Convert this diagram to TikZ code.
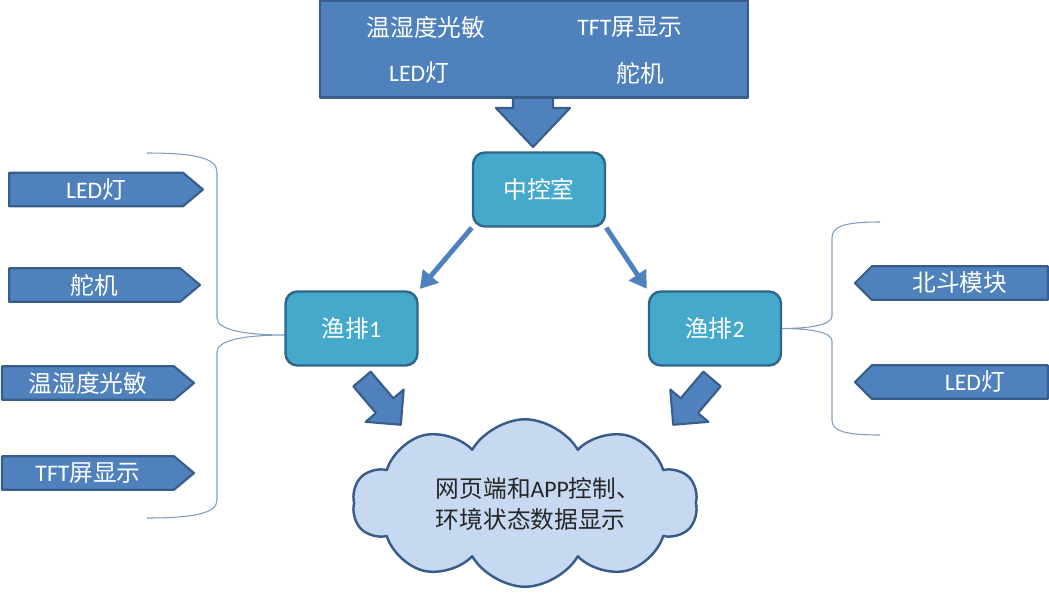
\documentclass[tikz,border=0pt]{standalone}
\usepackage{fontspec}
\setmainfont{Carlito}
\newfontfamily\cjk{Noto Sans CJK SC}
\usetikzlibrary{shapes.symbols,arrows.meta}
\definecolor{boxblue}{HTML}{4F81BD}
\definecolor{boxedge}{HTML}{385D8A}
\definecolor{aqua}{HTML}{45A9CB}
\definecolor{aquaedge}{HTML}{2F6689}
\definecolor{cloudfill}{HTML}{C6D9F1}
\definecolor{bracec}{HTML}{7E9CC0}
\tikzset{
  blkbox/.style={fill=boxblue,draw=boxedge,line width=1.2pt,text=white},
  tag/.style={blkbox,shape=signal,minimum height=0.67cm,inner sep=0pt},
  station/.style={fill=aqua,draw=aquaedge,line width=1.4pt,rounded corners=0.24cm,text=white,minimum width=2.64cm,minimum height=1.48cm},
  conn/.style={draw=boxblue,line width=2.8pt,shorten >=1pt,-{Triangle[length=0.34cm,width=0.4cm]}},
  brace/.style={draw=bracec,line width=0.6pt},
  pics/blk/.style n args={4}{code={\draw[blkbox] (0,-#2)--(#1-#4,-#2)--(#1-#4,-#3)--(#1,0)--(#1-#4,#3)--(#1-#4,#2)--(0,#2)--cycle;}}
}
\begin{document}
\begin{tikzpicture}[x=0.02cm,y=-0.02cm,font=\fontsize{13.5}{17.5}\selectfont,line join=round]
\useasboundingbox (0,0) rectangle (1049,593);
\pic[rotate=-90] at (533,80) {blk={67}{20}{37}{39}};
\node[blkbox,minimum width=8.56cm,minimum height=1.94cm] (top) at (534,49) {};
\node[text=white] (t1) at (426,27) {\cjk 温湿度光敏};
\node[text=white] (t2) at (630,27) {TFT{\cjk 屏显示}};
\node[text=white] (t3) at (419,73) {LED{\cjk 灯}};
\node[text=white] (t4) at (640,73) {\cjk 舵机};
\draw[brace] (147,153) .. controls (195,153) and (217,158) .. (217,172) -- (217,318) .. controls (217,330) and (245,335) .. (286,335)
  .. controls (245,335) and (217,340) .. (217,352) -- (217,500) .. controls (217,513) and (195,518) .. (147,518);
\draw[brace] (880,222) .. controls (845,222) and (832,226) .. (832,238) -- (832,316) .. controls (832,325) and (810,328.5) .. (780,328.5)
  .. controls (810,328.5) and (832,332) .. (832,341) -- (832,420) .. controls (832,431) and (845,435) .. (880,435);
\node[station] (ctrl) at (539,189.5) {\cjk 中控室};
\node[station] (yp1) at (351.5,328.5) {{\cjk 渔排}1};
\node[station] (yp2) at (715,328.5) {{\cjk 渔排}2};
\draw[conn] (ctrl.south west) -- (yp1.north east);
\draw[conn] (ctrl.south east) -- (yp2.north west);
\pic[rotate=-49.7] at (362,379) {blk={60}{11.4}{25}{25}};
\pic[rotate=-130.3] at (712,379) {blk={60}{11.4}{25}{25}};
\node[cloud,cloud puffs=10,cloud puff arc=120,aspect=2,fill=cloudfill,draw=boxedge,line width=1.4pt,minimum width=6.9cm,minimum height=3.35cm] (web) at (525,503) {};
\node[align=left,text=black!85] (webtxt) at (538,504) {{\cjk 网页端和}APP{\cjk 控制、}\\{\cjk 环境状态数据显示}};
\foreach \n/\xl/\yc/\w/\txt in {l1/8/189.5/3.88/{LED{\cjk 灯}},l2/8/285/3.82/{\cjk 舵机},l3/1/383/3.84/{\cjk 温湿度光敏},l4/1/473/3.84/{TFT{\cjk 屏显示}}}
  \node[tag,signal to=east,signal pointer angle=80,minimum width=\w cm,anchor=west] (\n) at (\xl,\yc) {\txt};
\node[tag,signal to=west,signal pointer angle=90,minimum width=3.86cm,anchor=east] (r1) at (1049,283) {\cjk 北斗模块};
\node[tag,signal to=west,signal pointer angle=90,minimum width=3.86cm,anchor=east] (r2) at (1049,382) {\hspace*{0.6cm}LED{\cjk 灯}};
\end{tikzpicture}
\end{document}
